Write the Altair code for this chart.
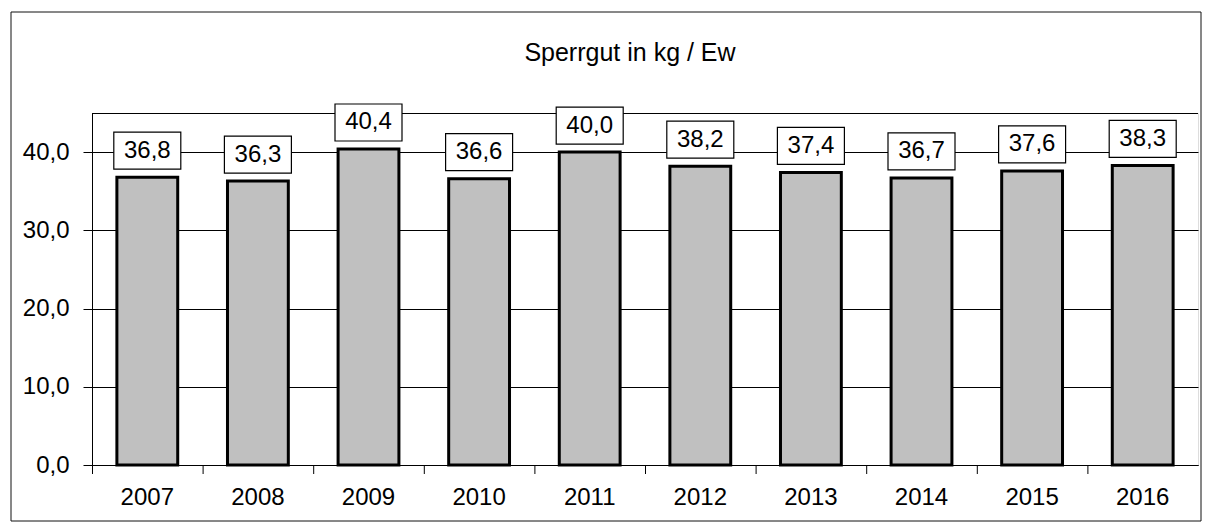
import altair as alt
import pandas as pd

years = ["2007", "2008", "2009", "2010", "2011", "2012", "2013", "2014", "2015", "2016"]
values = [36.8, 36.3, 40.4, 36.6, 40.0, 38.2, 37.4, 36.7, 37.6, 38.3]
y_ticks = [0, 10, 20, 30, 40]
y_max = 45
title_text = "Sperrgut in kg / Ew"

df = pd.DataFrame({
    "year": years,
    "value": values,
    "top": [y_max] * len(years),
    "label": [f"{v:.1f}".replace(".", ",") for v in values],
})

FONT = "Liberation Sans"
PAD_INNER = 0.45

x_scale = alt.Scale(domain=years, paddingInner=PAD_INNER, paddingOuter=PAD_INNER / 2)
x_axis = alt.Axis(
    title=None, labelAngle=0, ticks=False, labelPadding=20,
    domainColor="black", labelColor="black",
    labelFont=FONT, labelFontSize=24, grid=False,
)
y_scale = alt.Scale(domain=[0, y_max], nice=False, zero=True)
y_axis = alt.Axis(
    title=None, values=y_ticks, tickSize=9, labelPadding=14,
    labelExpr="replace(format(datum.value, '.1f'), '.', ',')",
    domainColor="black", tickColor="black", labelColor="black",
    labelFont=FONT, labelFontSize=24,
    grid=True, gridColor="black", gridOpacity=1, gridWidth=1,
)

X = alt.X("year:N", scale=x_scale, axis=x_axis)
Y = alt.Y("value:Q", scale=y_scale, axis=y_axis)

base = alt.Chart(df)

frame = alt.Chart(pd.DataFrame({"k": [0]})).mark_rect(
    filled=False, stroke="#111111", strokeWidth=1, clip=False
).encode(
    x=alt.value(-81), x2=alt.value(1109), y=alt.value(-101), y2=alt.value(408)
)

bars = base.mark_bar(color="#C0C0C0", stroke="black", strokeWidth=3).encode(x=X, y=Y)

top_line = base.mark_rule(color="black", strokeWidth=1, yOffset=0.5).encode(
    y=alt.Y("top:Q", scale=y_scale, axis=y_axis),
    x=alt.value(0), x2=alt.value(1106),
)

# x-axis ticks between the categories (Excel style)
x_ticks = base.mark_rule(color="black", strokeWidth=1, xOffset=-PAD_INNER / 2 * 110.6 + 0.5).encode(
    x=alt.X("year:N", scale=x_scale, axis=x_axis, bandPosition=0),
    y=alt.value(352), y2=alt.value(361),
)

boxes = base.mark_bar(
    width=67, fill="white", stroke="black", strokeWidth=1.2,
    yOffset=-8, y2Offset=-45,
).encode(x=X, y=Y, y2="value:Q")

texts = base.mark_text(
    font=FONT, fontSize=24, color="black", baseline="middle", align="center", dy=-26.5
).encode(x=X, y=Y, text="label:N")

title = alt.Chart(pd.DataFrame({"t": [title_text]})).mark_text(
    font=FONT, fontSize=25, color="black", baseline="alphabetic", align="center", clip=False
).encode(x=alt.value(538), y=alt.value(-52), text="t:N")

chart = alt.layer(bars, frame, top_line, x_ticks, boxes, texts, title).properties(
    width=1106, height=352,
    autosize=alt.AutoSizeParams(type="none"),
    padding={"left": 84, "top": 105, "right": 4, "bottom": 60},
).configure_view(stroke=None).configure(background="white")

chart.save("out.html", embed_options={"renderer": "svg", "actions": False})
